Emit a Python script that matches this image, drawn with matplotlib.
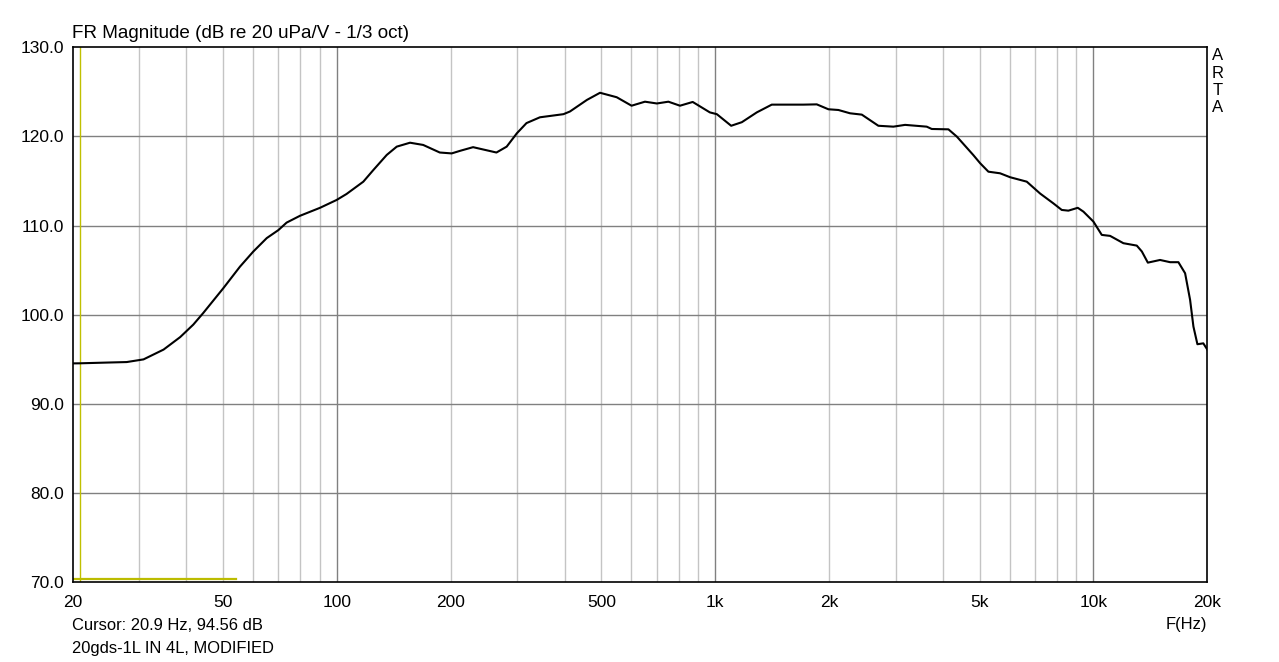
import matplotlib
matplotlib.use("Agg")
import matplotlib.pyplot as plt
import numpy as np

plt.rcParams['font.family'] = ['Liberation Sans', 'DejaVu Sans']

freq_hz = [20, 20.9, 25, 27.8, 30.8, 34.8, 38.5, 41.7, 44.3, 50.1, 55.4, 60.1, 65.2, 70,
           73.6, 79.8, 90.2, 99.8, 106, 117.4, 124.8, 135.4, 143.9, 156, 169, 187,
           201, 212, 229, 264, 281, 299, 317, 344, 397, 413, 458, 496, 549, 601,
           652, 701, 752, 807, 872, 968, 1010, 1102, 1176, 1288, 1411, 1710, 1856,
           1992, 2117, 2272, 2441, 2700, 2958, 3177, 3624, 3737, 4136, 4355, 4816,
           5017, 5276, 5665, 6020, 6664, 7228, 7834, 8246, 8585, 9090, 9408, 10000,
           10520, 11068, 12000, 13020, 13428, 13926, 15000, 15948, 16774, 17472,
           18012, 18380, 18832, 19520, 20000]
mag_db = [94.55, 94.56, 94.65, 94.7, 95.0, 96.1, 97.5, 98.9, 100.2, 103.0, 105.4, 107.1,
          108.6, 109.5, 110.34, 111.1, 112.0, 112.88, 113.55, 114.93, 116.24, 117.93,
          118.86, 119.3, 119.05, 118.2, 118.1, 118.4, 118.8, 118.2, 118.86, 120.36,
          121.5, 122.15, 122.5, 122.8, 124.1, 124.9, 124.4, 123.45, 123.9, 123.7,
          123.9, 123.45, 123.87, 122.7, 122.5, 121.2, 121.6, 122.7, 123.57, 123.57,
          123.6, 123.05, 122.97, 122.6, 122.45, 121.2, 121.1, 121.3, 121.1, 120.84,
          120.8, 119.98, 117.9, 117.0, 116.05, 115.87, 115.43, 114.93, 113.6, 112.5,
          111.76, 111.68, 112.0, 111.57, 110.45, 108.96, 108.85, 108.03, 107.76,
          107.1, 105.85, 106.15, 105.9, 105.9, 104.66, 101.67, 98.68, 96.7, 96.8, 96.1]

x_ticks = [20, 50, 100, 200, 500, 1000, 2000, 5000, 10000, 20000]
x_tick_labels = ['20', '50', '100', '200', '500', '1k', '2k', '5k', '10k', '20k']
y_ticks = [70, 80, 90, 100, 110, 120, 130]
y_tick_labels = ['70.0', '80.0', '90.0', '100.0', '110.0', '120.0', '130.0']
minor_freqs = [30, 40, 50, 60, 70, 80, 90, 200, 300, 400, 500, 600, 700, 800, 900,
               2000, 3000, 4000, 5000, 6000, 7000, 8000, 9000]
decade_freqs = [100, 1000, 10000]
cursor_freq = 20.9
marker_range = [20, 54]
marker_level = 70.4

W, H = 1279, 662
fig = plt.figure(figsize=(W / 100, H / 100), dpi=100)
L, R, T, B = 72.6, 1207.3, 47.3, 582.3
ax = fig.add_axes([L / W, 1 - B / H, (R - L) / W, (B - T) / H])
ax.set_xscale('log')
ax.set_xlim(20, 20000)
ax.set_ylim(70, 130)

for f in minor_freqs:
    ax.axvline(f, color='#c4c4c4', lw=1.0, zorder=1)
for f in decade_freqs:
    ax.axvline(f, color='#808080', lw=1.0, zorder=1)
for yv in y_ticks[1:-1]:
    ax.axhline(yv, color='#808080', lw=1.0, zorder=1)

ax.axvline(cursor_freq, color='#c0c000', lw=1.0, zorder=2)
ax.plot(marker_range, [marker_level, marker_level], color='#bcbc00', lw=1.6, zorder=2)

ax.plot(freq_hz, mag_db, color='black', lw=1.5, zorder=3)

ax.set_xticks(x_ticks)
ax.set_xticklabels(x_tick_labels)
ax.xaxis.set_minor_locator(matplotlib.ticker.NullLocator())
ax.set_yticks(y_ticks)
ax.set_yticklabels(y_tick_labels)
ax.tick_params(axis='both', length=0, labelsize=12.5, colors='black')
ax.tick_params(axis='x', pad=9)
ax.tick_params(axis='y', pad=6)
for s in ax.spines.values():
    s.set_color('black')
    s.set_linewidth(1.2)

fig.text(72 / W, 1 - 33 / H, 'FR Magnitude (dB re 20 uPa/V - 1/3 oct)', fontsize=13.6,
         ha='left', va='center')
fig.text(72 / W, 1 - 625 / H, 'Cursor: 20.9 Hz, 94.56 dB', fontsize=11.9, ha='left', va='center')
fig.text(72 / W, 1 - 648 / H, '20gds-1L IN 4L, MODIFIED', fontsize=11.9, ha='left', va='center')
fig.text(1207 / W, 1 - 625 / H, 'F(Hz)', fontsize=11.9, ha='right', va='center')
for i, ch in enumerate('ARTA'):
    fig.text(1218 / W, 1 - (56 + i * 17.3) / H, ch, fontsize=12, ha='center', va='center')

fig.savefig('out.png', dpi=100)
